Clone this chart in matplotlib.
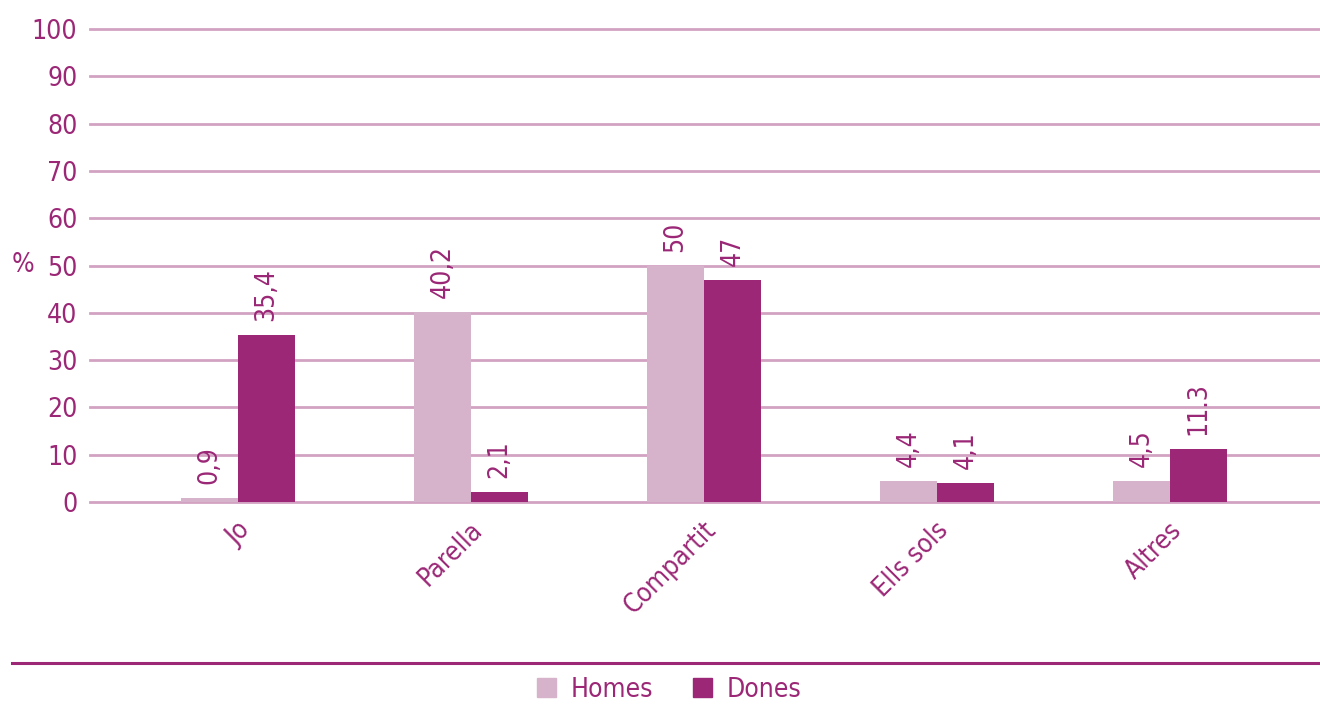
import os
import matplotlib
matplotlib.use('Agg')
import matplotlib.pyplot as plt
import matplotlib.transforms as mtransforms
from matplotlib import font_manager
import numpy as np

categories = ['Jo', 'Parella', 'Compartit', 'Ells sols', 'Altres']
homes = [0.9, 40.2, 50, 4.4, 4.5]
dones = [35.4, 2.1, 47, 4.1, 11.3]
homes_labels = ['0,9', '40,2', '50', '4,4', '4,5']
dones_labels = ['35,4', '2,1', '47', '4,1', '11.3']
yticks = list(range(0, 101, 10))

PURPLE = '#9b2776'
LIGHT = '#d6b3cb'
GRID = '#d2a2c2'
TEXT = '#9b2776'

# pick a regular condensed face if one is installed
fl = font_manager.fontManager.ttflist
names = {f.name for f in fl}
cond = [f.fname for f in fl
        if os.path.basename(f.fname) == 'DejaVuSansCondensed.ttf']
if 'Liberation Sans Narrow' in names:
    FP = font_manager.FontProperties(family='Liberation Sans Narrow', size=20)
elif cond:
    FP = font_manager.FontProperties(fname=cond[0], size=19)
else:
    FP = font_manager.FontProperties(family='Roboto', size=19)

fig = plt.figure(figsize=(13.2, 7.04), dpi=100)
ax = fig.add_axes([90 / 1320, 202 / 704, 1230 / 1320, 473 / 704])

x = np.arange(len(categories))
w = 0.245
b1 = ax.bar(x - w / 2, homes, w, color=LIGHT, zorder=3)
b2 = ax.bar(x + w / 2, dones, w, color=PURPLE, zorder=3)

for bars, labels in ((b1, homes_labels), (b2, dones_labels)):
    for r, lab in zip(bars, labels):
        ax.annotate(lab, (r.get_x() + r.get_width() / 2, r.get_height()),
                    xytext=(0, 10), textcoords='offset points',
                    rotation=90, ha='center', va='bottom',
                    fontproperties=FP, color=TEXT)

ax.set_ylim(0, 100)
ax.set_xlim(-0.635, 4.644)
ax.set_yticks(yticks)
ax.yaxis.grid(True, color=GRID, lw=2, zorder=0)
for gl in ax.get_ygridlines():
    gl.set_clip_on(False)
ax.set_axisbelow(True)
for s in ax.spines.values():
    s.set_visible(False)
ax.tick_params(axis='y', length=0, pad=9, labelcolor=TEXT)
ax.tick_params(axis='x', length=0, pad=11, labelcolor=TEXT)
ax.set_xticks(x)
ax.set_xticklabels(categories, rotation=45, ha='right', va='top')
off = mtransforms.ScaledTranslation(17 / 100, 0, fig.dpi_scale_trans)
for t in ax.get_xticklabels():
    t.set_transform(t.get_transform() + off)
    t.set_fontproperties(FP)
for t in ax.get_yticklabels():
    t.set_fontproperties(FP)

fig.text(12 / 1320, 1 - 265 / 704, '%', fontproperties=FP, color=TEXT, ha='left', va='center')

fig.add_artist(plt.Line2D([12 / 1320, 1], [1 - 663 / 704] * 2, color=PURPLE, lw=2.2,
                          transform=fig.transFigure))

h1 = plt.Rectangle((0, 0), 1, 1, color=LIGHT)
h2 = plt.Rectangle((0, 0), 1, 1, color=PURPLE)
leg = fig.legend([h1, h2], ['Homes', 'Dones'], loc='center', ncol=2,
                 bbox_to_anchor=(0.507, 1 - 690 / 704), frameon=False,
                 prop=FP, handlelength=0.72, handleheight=0.72,
                 handletextpad=0.57, columnspacing=1.5, borderpad=0)
for t in leg.get_texts():
    t.set_color(TEXT)

fig.savefig('out.png', dpi=100)
